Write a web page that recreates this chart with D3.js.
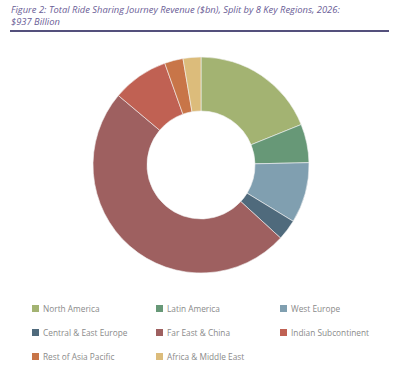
<!DOCTYPE html>
<html>
<head>
<meta charset="utf-8">
<script src="https://cdn.jsdelivr.net/npm/d3@7"></script>
<style>
  body { margin: 0; background: #fff; }
  svg { display: block; font-family: "Open Sans", sans-serif; }
</style>
</head>
<body>
<svg id="chart" width="400" height="371"></svg>
<script>
var regions = ["North America", "Latin America", "West Europe", "Central & East Europe",
               "Far East & China", "Indian Subcontinent", "Rest of Asia Pacific", "Africa & Middle East"];
var revenue = [177, 54, 85, 29, 462, 79, 26, 25];
var colours = ["#a3b372", "#679877", "#809fb0", "#4f6a7c", "#9e6060", "#c06153", "#c87548", "#dcbc7b"];
var titleLines = ["Figure 2: Total Ride Sharing Journey Revenue ($bn), Split by 8 Key Regions, 2026:",
                  "$937 Billion"];

var svg = d3.select("#chart");

// title
svg.selectAll("text.title")
    .data(titleLines)
    .enter()
    .append("text")
    .attr("class", "title")
    .attr("x", 11)
    .attr("y", function (d, i) { return 13 + i * 12; })
    .attr("font-size", "9.4px")
    .attr("font-style", "italic")
    .attr("fill", "#6a5d96")
    .text(function (d) { return d; });

svg.append("line")
    .attr("x1", 10).attr("x2", 389)
    .attr("y1", 31).attr("y2", 31)
    .attr("stroke", "#1b1650")
    .attr("stroke-width", 1.5);

// donut
var cx = 201, cy = 165, outerR = 108, innerR = 54;
var data = regions.map(function (r, i) { return {name: r, value: revenue[i], colour: colours[i]}; });

var pie = d3.pie().sort(null).value(function (d) { return d.value; });
var arc = d3.arc().innerRadius(innerR).outerRadius(outerR);

svg.append("g")
    .attr("transform", "translate(" + cx + "," + cy + ")")
    .selectAll("path")
    .data(pie(data))
    .enter()
    .append("path")
    .attr("d", arc)
    .attr("fill", function (d) { return d.data.colour; })
    .attr("stroke", "#f4f4f4")
    .attr("stroke-width", 0.6);

// legend, 3 columns
var colX = d3.scaleOrdinal().domain([0, 1, 2]).range([32, 156, 280]);
var rowY = d3.scaleOrdinal().domain([0, 1, 2]).range([309, 333, 357]);

var item = svg.selectAll("g.legend")
    .data(data)
    .enter()
    .append("g")
    .attr("class", "legend")
    .attr("transform", function (d, i) {
        return "translate(" + colX(i % 3) + "," + rowY(Math.floor(i / 3)) + ")";
    });

item.append("rect")
    .attr("x", 0).attr("y", -4)
    .attr("width", 7).attr("height", 7)
    .attr("fill", function (d) { return d.colour; });

item.append("text")
    .attr("x", 11)
    .attr("y", 3)
    .attr("font-size", "8.3px")
    .attr("fill", "#8a8a8a")
    .text(function (d) { return d.name; });
</script>
</body>
</html>
